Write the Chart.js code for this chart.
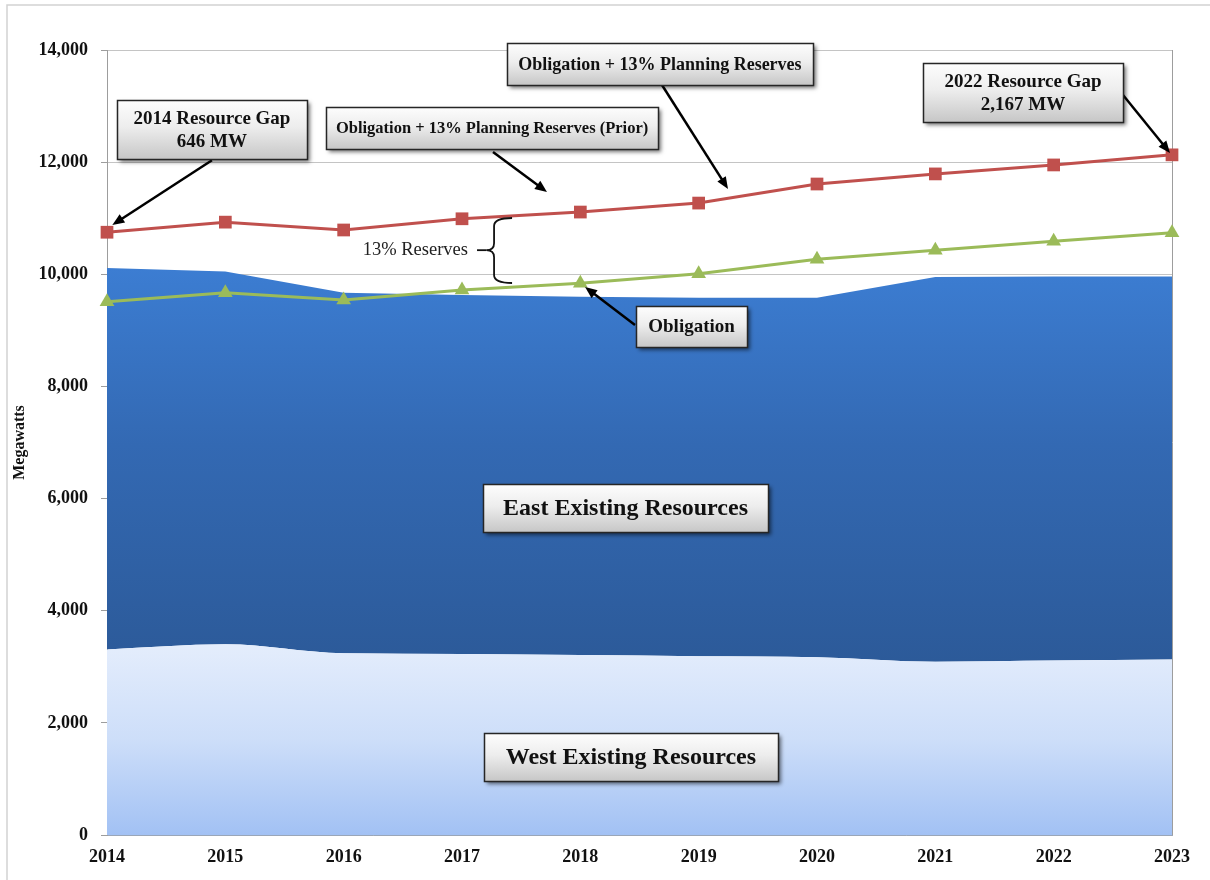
<!DOCTYPE html>
<html>
<head>
<meta charset="utf-8">
<script src="https://cdn.jsdelivr.net/npm/chart.js@4.4.1/dist/chart.umd.min.js"></script>
<style>
html,body{margin:0;padding:0;background:#fff;}
#wrap{width:1210px;height:880px;position:relative;}
canvas{display:block;}
</style>
</head>
<body>
<div id="wrap"><canvas id="c" width="1210" height="880"></canvas></div>
<script>
// ---- Data ----
const years = ['2014','2015','2016','2017','2018','2019','2020','2021','2022','2023'];
const westExisting = [3310, 3400, 3240, 3230, 3210, 3190, 3170, 3090, 3110, 3130];
const eastExisting = [6800, 6650, 6430, 6400, 6390, 6390, 6410, 6860, 6850, 6830];
const obligation = [9510, 9670, 9540, 9720, 9840, 10010, 10270, 10430, 10590, 10740];
const obligationPlusReserves = [10750, 10930, 10790, 10990, 11110, 11270, 11610, 11790, 11950, 12130];
const yTickValues = [0, 2000, 4000, 6000, 8000, 10000, 12000, 14000];

const SERIF = '"Liberation Serif", "Times New Roman", Times, serif';

// ---- Callout annotations (positions in data units: category index, MW) ----
const callouts = [
  {lines:['2014 Resource Gap','646 MW'], at:[0.887, 12582], w:190, h:59, size:19,
   arrow:{from:[0.887, 12035], to:[0.045, 10880]}},
  {lines:['Obligation + 13% Planning Reserves (Prior)'], at:[3.254, 12609], w:332, h:42, size:16.5,
   arrow:{from:[3.262, 12181], to:[3.718, 11467]}},
  {lines:['Obligation + 13% Planning Reserves'], at:[4.673, 13750], w:306, h:42, size:18,
   arrow:{from:[4.690, 13376], to:[5.248, 11521]}},
  {lines:['2022 Resource Gap','2,167 MW'], at:[7.741, 13242], w:200, h:59, size:19,
   arrow:{from:[8.586, 13197], to:[8.983, 12163]}},
  {lines:['Obligation'], at:[4.940, 9069], w:111, h:41, size:19,
   arrow:{from:[4.462, 9096], to:[4.040, 9773]}},
  {lines:['East Existing Resources'], at:[4.382, 5832], w:285, h:48, size:24},
  {lines:['West Existing Resources'], at:[4.428, 1391], w:294, h:48, size:24}
];
const reservesNote = {text:'13% Reserves', textRight:[3.051, 10430], dashFrom:3.127, mid:3.205,
  spine:3.271, tip:3.423, top:11004, bottom:9845, midY:10430};

function drawArrow(ctx, x1, y1, x2, y2){
  const a = Math.atan2(y2 - y1, x2 - x1), L = 12, W = 5;
  ctx.save();
  ctx.strokeStyle = '#000'; ctx.fillStyle = '#000'; ctx.lineWidth = 2.5;
  ctx.beginPath(); ctx.moveTo(x1, y1);
  ctx.lineTo(x2 - L*0.8*Math.cos(a), y2 - L*0.8*Math.sin(a)); ctx.stroke();
  ctx.beginPath(); ctx.moveTo(x2, y2);
  ctx.lineTo(x2 - L*Math.cos(a) + W*Math.sin(a), y2 - L*Math.sin(a) - W*Math.cos(a));
  ctx.lineTo(x2 - L*Math.cos(a) - W*Math.sin(a), y2 - L*Math.sin(a) + W*Math.cos(a));
  ctx.closePath(); ctx.fill();
  ctx.restore();
}

function drawBox(ctx, cx, cy, w, h, lines, size){
  const x = Math.round(cx - w/2) + 0.5, y = Math.round(cy - h/2) + 0.5;
  ctx.save();
  ctx.shadowColor = 'rgba(0,0,0,0.55)'; ctx.shadowBlur = 4; ctx.shadowOffsetX = 2; ctx.shadowOffsetY = 2;
  const g = ctx.createLinearGradient(0, y, 0, y + h);
  g.addColorStop(0, '#fdfdfd'); g.addColorStop(0.45, '#ededed'); g.addColorStop(1, '#c6c6c6');
  ctx.fillStyle = g; ctx.fillRect(x, y, w, h);
  ctx.shadowColor = 'transparent';
  ctx.strokeStyle = '#262626'; ctx.lineWidth = 1.5; ctx.strokeRect(x, y, w, h);
  ctx.fillStyle = '#111'; ctx.font = `bold ${size}px ${SERIF}`;
  ctx.textAlign = 'center'; ctx.textBaseline = 'middle';
  const lh = size * 1.25;
  lines.forEach((t, i) => ctx.fillText(t, cx, cy + 1 + (i - (lines.length - 1)/2) * lh));
  ctx.restore();
}

const framePlugin = {
  id: 'frame',
  beforeDraw(chart){
    const {ctx} = chart;
    ctx.save();
    ctx.fillStyle = '#fff'; ctx.fillRect(0, 0, chart.width, chart.height);
    ctx.strokeStyle = '#d2d2d2'; ctx.lineWidth = 1.5;
    ctx.beginPath(); ctx.moveTo(7, chart.height); ctx.lineTo(7, 5); ctx.lineTo(chart.width, 5); ctx.stroke();
    ctx.restore();
  },
  beforeDatasetsDraw(chart){
    const {ctx, chartArea:a} = chart;
    ctx.save();
    ctx.strokeStyle = '#9d9d9d'; ctx.lineWidth = 1;
    ctx.beginPath(); ctx.moveTo(Math.round(a.right) + 0.5, a.top); ctx.lineTo(Math.round(a.right) + 0.5, a.bottom); ctx.stroke();
    ctx.restore();
  },
  afterDatasetsDraw(chart){
    const {ctx, scales:{x, y}} = chart;
    const P = p => [x.getPixelForValue(p[0]), y.getPixelForValue(p[1])];
    const r = reservesNote;
    const [tx, ty] = P(r.textRight);
    ctx.save();
    ctx.fillStyle = '#222'; ctx.font = `18.5px ${SERIF}`; ctx.textAlign = 'right'; ctx.textBaseline = 'middle';
    ctx.fillText(r.text, tx, ty);
    const xd = x.getPixelForValue(r.dashFrom), xm = x.getPixelForValue(r.mid), xs = x.getPixelForValue(r.spine), xt = x.getPixelForValue(r.tip);
    const yt = y.getPixelForValue(r.top), yb = y.getPixelForValue(r.bottom), ym = y.getPixelForValue(r.midY);
    ctx.strokeStyle = '#111'; ctx.lineWidth = 1.8;
    ctx.beginPath(); ctx.moveTo(xd, ym); ctx.lineTo(xm, ym); ctx.stroke();
    ctx.beginPath();
    ctx.moveTo(xt, yt);
    ctx.quadraticCurveTo(xs, yt, xs, yt + 8);
    ctx.lineTo(xs, ym - 7);
    ctx.quadraticCurveTo(xs, ym, xm, ym);
    ctx.quadraticCurveTo(xs, ym, xs, ym + 7);
    ctx.lineTo(xs, yb - 8);
    ctx.quadraticCurveTo(xs, yb, xt, yb);
    ctx.stroke();
    ctx.restore();
    callouts.forEach(c => { if (c.arrow){ const [x1,y1] = P(c.arrow.from), [x2,y2] = P(c.arrow.to); drawArrow(ctx, x1, y1, x2, y2); } });
    callouts.forEach(c => { const [cx, cy] = P(c.at); drawBox(ctx, cx, cy, c.w, c.h, c.lines, c.size); });
  }
};

function eastGradient(c){
  const chart = c.chart, a = chart.chartArea;
  if (!a) return '#3a78c8';
  const y = chart.scales.y;
  const top = Math.max(...westExisting.map((w, i) => w + eastExisting[i]));
  const bot = Math.min(...westExisting);
  const g = chart.ctx.createLinearGradient(0, y.getPixelForValue(top), 0, y.getPixelForValue(bot));
  g.addColorStop(0, '#3c7dd2'); g.addColorStop(0.45, '#3369b3'); g.addColorStop(1, '#2c5a99');
  return g;
}
function westGradient(c){
  const chart = c.chart, a = chart.chartArea;
  if (!a) return '#c8daf8';
  const y = chart.scales.y;
  const top = Math.max(...westExisting);
  const g = chart.ctx.createLinearGradient(0, y.getPixelForValue(top), 0, y.getPixelForValue(0));
  g.addColorStop(0, '#e4edfc'); g.addColorStop(0.5, '#cddef9'); g.addColorStop(1, '#a2c1f4');
  return g;
}

new Chart(document.getElementById('c'), {
  type: 'line',
  data: {
    labels: years,
    datasets: [
      {label:'West Existing Resources', data: westExisting, stack:'res', fill:'origin', order:2,
       backgroundColor: westGradient, borderWidth:0, pointRadius:0, cubicInterpolationMode:'monotone'},
      {label:'East Existing Resources', data: eastExisting, stack:'res', fill:'-1', order:3,
       backgroundColor: eastGradient, borderWidth:0, pointRadius:0, tension:0},
      {label:'Obligation', data: obligation, stack:'obl', fill:false, order:1, clip:false,
       borderColor:'#9bbb59', backgroundColor:'#9bbb59', borderWidth:3, tension:0,
       pointStyle:'triangle', pointRadius:8.5, pointBorderWidth:0, pointBackgroundColor:'#9bbb59'},
      {label:'Obligation + 13% Planning Reserves', data: obligationPlusReserves, stack:'res13', fill:false, order:0, clip:false,
       borderColor:'#c0504d', backgroundColor:'#c0504d', borderWidth:3, tension:0,
       pointStyle:'rect', pointRadius:9, pointBorderWidth:0, pointBackgroundColor:'#c0504d'}
    ]
  },
  options: {
    responsive:false, animation:false, devicePixelRatio:1,
    layout:{padding:{top:50, right:38, bottom:0, left:0}},
    plugins:{legend:{display:false}, tooltip:{enabled:false}},
    scales:{
      x:{
        offset:false,
        grid:{display:false, drawTicks:false},
        border:{display:true, color:'#9aa6b8', width:1},
        ticks:{padding:12, color:'#111', font:{family:SERIF, size:18, weight:'bold'}, maxRotation:0},
        afterFit(s){ s.height = 45; }
      },
      y:{
        stacked:true, min:0, max:14000,
        afterBuildTicks(s){ s.ticks = yTickValues.map(v => ({value:v})); },
        grid:{color:'#c4c4c4', lineWidth:1, drawTicks:true, tickLength:6, tickColor:'#9d9d9d'},
        border:{display:true, color:'#9d9d9d', width:1},
        ticks:{padding:13, color:'#111', font:{family:SERIF, size:18, weight:'bold'},
               callback: v => v.toLocaleString('en-US')},
        title:{display:true, text:'Megawatts', color:'#111', padding:{top:10, bottom:0},
               font:{family:SERIF, size:16, weight:'bold'}},
        afterFit(s){ s.width = 107; }
      }
    }
  },
  plugins:[framePlugin]
});
</script>
</body>
</html>
